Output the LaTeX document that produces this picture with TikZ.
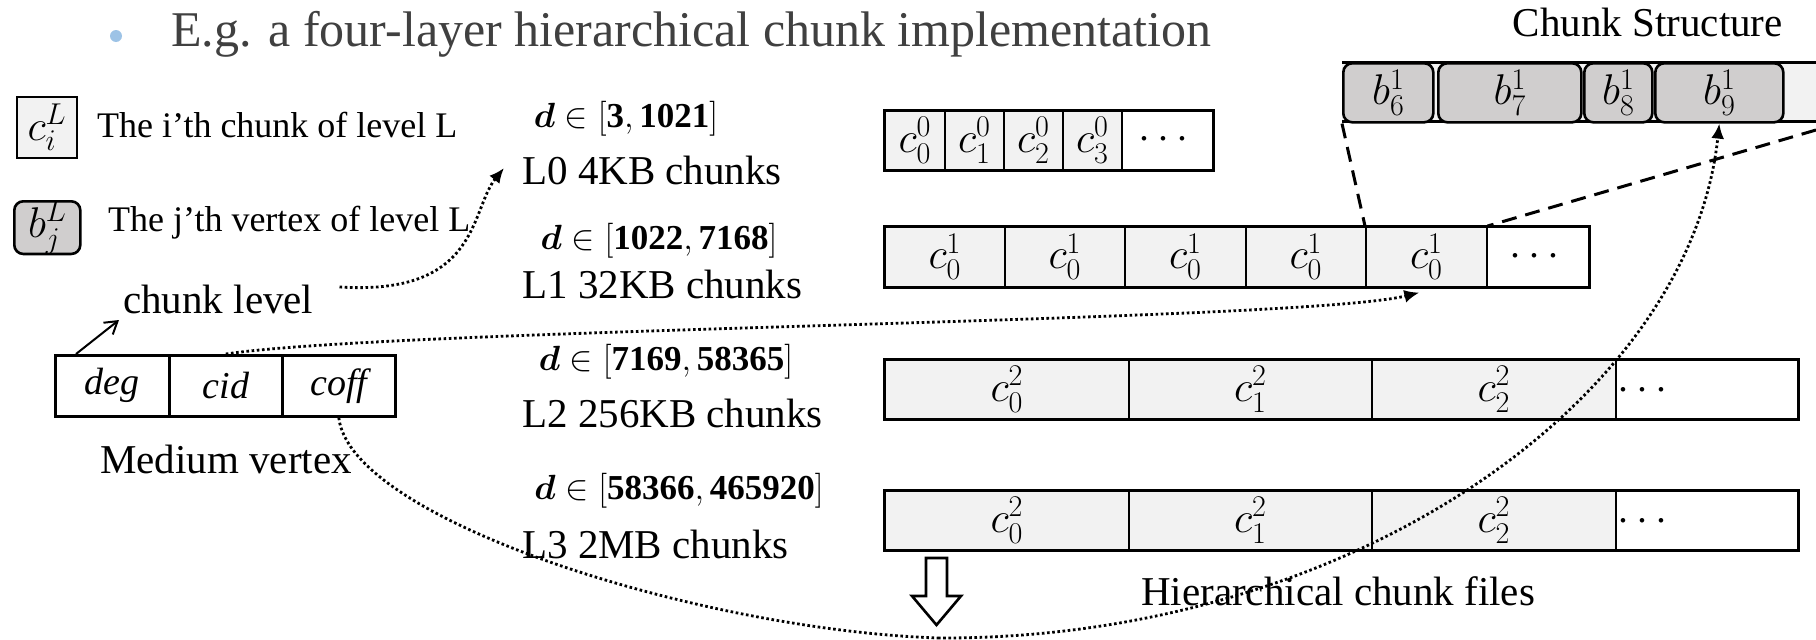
\documentclass[tikz,border=0pt]{standalone}
\usepackage{fix-cm}
\usepackage{amsmath}
\usepackage{fontspec}
\setmainfont{Liberation Serif}
\usetikzlibrary{arrows.meta,calc}

\definecolor{cellfill}{HTML}{F2F2F2}
\definecolor{vertfill}{HTML}{D0CECE}
\definecolor{titlegray}{HTML}{404040}
\definecolor{bulletblue}{HTML}{9DC3E6}

\tikzset{
  cell/.style={draw, line width=1.6pt, fill=cellfill, inner sep=0pt, anchor=north west,
               font=\fontsize{43}{46}\selectfont},
  dotscell/.style={cell, fill=white},
  rowframe/.style={draw, line width=3pt},
  vbox/.style={draw, line width=2.6pt, fill=vertfill, rounded corners=9pt, inner sep=0pt,
               anchor=north west, font=\fontsize{43}{46}\selectfont},
  fieldcell/.style={draw, line width=2.6pt, fill=white, inner sep=0pt, anchor=north west,
               font=\fontsize{38}{42}\selectfont\itshape},
  lbl/.style={inner sep=0pt, font=\fontsize{41}{45}\selectfont},
  rng/.style={inner sep=0pt, font=\fontsize{35}{38}\selectfont},
  legend/.style={inner sep=0pt, font=\fontsize{36}{40}\selectfont},
  dotline/.style={line width=2.8pt, dash pattern=on 2.6pt off 2.6pt,
                  -{Latex[length=15pt,width=13pt]}},
  dashline/.style={line width=3pt, dash pattern=on 15pt off 9pt},
}

\begin{document}
\begin{tikzpicture}[x=1pt,y=-1pt]
\useasboundingbox (0,0) rectangle (1816,640);

% heading
\fill[bulletblue] (116,36) circle (6);
\node[anchor=base west, inner sep=0pt, text=titlegray, font=\fontsize{50}{56}\selectfont]
  (title) at (171,46) {E.g. a four-layer hierarchical chunk implementation};

% legend
\node[cell, line width=1.8pt, minimum width=60, minimum height=61] (legc) at (16,96) {$c_i^L$};
\node[legend, anchor=base west] (legctext) at (97,137) {The i’th chunk of level L};
\node[vbox, minimum width=66, minimum height=50] (legb) at (13,200) {$b_j^L$};
\node[legend, anchor=base west] (legbtext) at (108,231) {The j’th vertex of level L};

% medium vertex record
\node[fieldcell, minimum width=114, minimum height=61] (mdeg) at (54,354) {deg};
\node[fieldcell, minimum width=113, minimum height=61] (mcid) at (168,354) {cid};
\node[fieldcell, minimum width=113, minimum height=61] (mcoff) at (281,354) {coff};
\node[lbl, anchor=base west] (mvtext) at (100,473) {Medium vertex};
\node[lbl, anchor=base west] (lvl) at (123,313) {chunk level};
\coordinate (degtop) at (76,354);
\draw[line width=2pt, -{Straight Barb[length=12pt,width=15pt]}] (degtop) -- (119,320);

% level labels
\node[rng] (r0) at (626,119) {$\boldsymbol{d}\in[\mathbf{3},\mathbf{1021}]$};
\node[lbl, anchor=west] (l0lab) at (522,170) {L0 4KB chunks};
\node[rng] (r1) at (659,241) {$\boldsymbol{d}\in[\mathbf{1022},\mathbf{7168}]$};
\node[lbl, anchor=west] (l1lab) at (522,284) {L1 32KB chunks};
\node[rng] (r2) at (666,362) {$\boldsymbol{d}\in[\mathbf{7169},\mathbf{58365}]$};
\node[lbl, anchor=west] (l2lab) at (522,413) {L2 256KB chunks};
\node[rng] (r3) at (679,491) {$\boldsymbol{d}\in[\mathbf{58366},\mathbf{465920}]$};
\node[lbl, anchor=west] (l3lab) at (522,544) {L3 2MB chunks};

% L0 chunk file
\node[cell, minimum width=60, minimum height=59] (l0a) at (884,110) {$c_0^0$};
\node[cell, minimum width=59, minimum height=59] (l0b) at (944,110) {$c_1^0$};
\node[cell, minimum width=59, minimum height=59] (l0c) at (1003,110) {$c_2^0$};
\node[cell, minimum width=59, minimum height=59] (l0d) at (1062,110) {$c_3^0$};
\node[dotscell, minimum width=91, minimum height=59] (l0e) at (1121,110) {};
\node[cell, draw=none, fill=none, anchor=center] at (l0e.center) {$\cdots$};
\draw[rowframe] (l0a.north west) rectangle (l0e.south east);

% L1 chunk file
\node[cell, minimum width=120, minimum height=60] (l1a) at (884,226) {$c_0^1$};
\node[cell, minimum width=120, minimum height=60] (l1b) at (1004,226) {$c_0^1$};
\node[cell, minimum width=121, minimum height=60] (l1c) at (1124,226) {$c_0^1$};
\node[cell, minimum width=120, minimum height=60] (l1d) at (1245,226) {$c_0^1$};
\node[cell, minimum width=121, minimum height=60] (l1e) at (1365,226) {$c_0^1$};
\node[dotscell, minimum width=102, minimum height=60] (l1f) at (1486,226) {};
\node[cell, draw=none, fill=none, anchor=center] at (l1f.center) {$\cdots$};
\draw[rowframe] (l1a.north west) rectangle (l1f.south east);

% L2 chunk file
\node[cell, minimum width=244, minimum height=59] (l2a) at (884,359) {$c_0^2$};
\node[cell, minimum width=243, minimum height=59] (l2b) at (1128,359) {$c_1^2$};
\node[cell, minimum width=244, minimum height=59] (l2c) at (1371,359) {$c_2^2$};
\node[dotscell, minimum width=182, minimum height=59] (l2d) at (1615,359) {};
\node[cell, draw=none, fill=none, anchor=center] at (1646,391) {$\cdots$};
\draw[rowframe] (l2a.north west) rectangle (l2d.south east);

% L3 chunk file
\node[cell, minimum width=244, minimum height=59] (l3a) at (884,490) {$c_0^2$};
\node[cell, minimum width=243, minimum height=59] (l3b) at (1128,490) {$c_1^2$};
\node[cell, minimum width=244, minimum height=59] (l3c) at (1371,490) {$c_2^2$};
\node[dotscell, minimum width=182, minimum height=59] (l3d) at (1615,490) {};
\node[cell, draw=none, fill=none, anchor=center] at (1646,522) {$\cdots$};
\draw[rowframe] (l3a.north west) rectangle (l3d.south east);

\node[lbl, anchor=west] (hcf) at (1141,591) {Hierarchical chunk files};

% hollow down arrow
\draw[line width=2.6pt, fill=white, line join=miter]
  (926,558) -- (947,558) -- (947,596) -- (961,596) -- (936.5,625) -- (912,596) -- (926,596) -- cycle;

% chunk structure
\node[anchor=base east, inner sep=0pt, font=\fontsize{41}{45}\selectfont] (cstitle) at (1783,36) {Chunk Structure};
\fill[cellfill] (1342,62) rectangle (1816,121);
\draw[line width=3pt] (1342,62) -- (1816,62);
\draw[line width=3pt] (1342,121) -- (1816,121);
\node[vbox, minimum width=90, minimum height=59] (b6) at (1342,62) {$b_6^1$};
\node[vbox, minimum width=143, minimum height=59] (b7) at (1437,62) {$b_7^1$};
\node[vbox, minimum width=68, minimum height=59] (b8) at (1583,62) {$b_8^1$};
\node[vbox, minimum width=128, minimum height=59] (b9) at (1654,62) {$b_9^1$};

% zoom lines from the L1 chunk to its structure
\coordinate (barR) at (1816,130);
\draw[dashline] (b6.south west) -- (l1e.north west);
\draw[dashline] (barR) -- (l1e.north east);

% references between fields and chunks
\draw[dotline] ($(lvl.east)+(26,-12)$) .. controls (480,296) and (470,210) .. ($(l0lab.west)+(-18,-2)$);
\draw[dotline] (mcid.north) .. controls (400,328) and (1300,322) .. ($(l1e.south)+(-7,5)$);
\coordinate (low) at (938,638);
\draw[line width=2.8pt, dash pattern=on 2.6pt off 2.6pt]
  (mcoff.south) .. controls (350,520) and (700,630) .. (low);
\draw[dotline] (low) .. controls (1350,640) and (1690,400) .. (b9.south);
\end{tikzpicture}
\end{document}
